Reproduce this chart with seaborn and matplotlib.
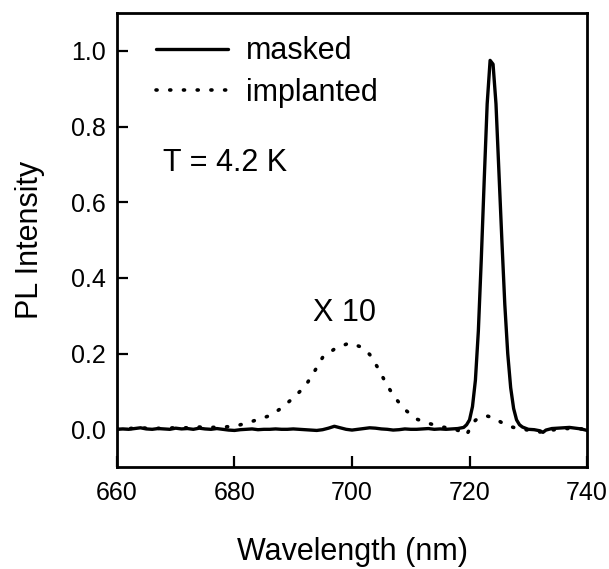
import matplotlib
matplotlib.use("Agg")
import matplotlib.pyplot as plt
import seaborn as sns
import pandas as pd

# ---- data ----
masked_wl = [660, 661, 662, 663, 664, 665, 666, 667, 668, 669, 670, 671, 672, 673, 674, 675,
             676, 677, 678, 679, 680, 681, 682, 683, 684, 685, 686, 687, 688, 689, 690, 691,
             692, 693, 694, 695, 696, 697, 698, 699, 700, 701, 702, 703, 704, 705, 706, 707,
             708, 709, 710, 711, 712, 713, 714, 715, 716, 717, 718, 719, 719.5, 720, 720.5,
             721, 721.5, 722, 722.5, 723, 723.5, 724, 724.5, 725, 725.5, 726, 726.5, 727,
             727.5, 728, 728.5, 729, 729.5, 730, 731, 732, 732.5, 733, 734, 735, 736, 737,
             738, 739, 740]
masked_int = [0.0, 0.001, 0.0, 0.002, 0.004, 0.001, 0.0, 0.002, 0.001, 0.0, 0.003, 0.001,
              0.002, 0.0, 0.003, 0.001, 0.0, 0.002, 0.0, -0.002, -0.003, -0.001, 0.0, 0.001,
              -0.001, 0.0, 0.0, 0.001, 0.0, 0.0, 0.001, 0.0, -0.001, -0.002, -0.003, -0.001,
              0.003, 0.008, 0.004, 0.0, -0.002, 0.0, 0.002, 0.004, 0.003, 0.001, 0.0, -0.002,
              -0.001, 0.001, 0.0, 0.0, 0.001, 0.002, 0.0, 0.001, 0.0, 0.001, 0.002, 0.005,
              0.012, 0.025, 0.06, 0.13, 0.26, 0.45, 0.66, 0.86, 0.975, 0.965, 0.86, 0.68, 0.50,
              0.33, 0.20, 0.11, 0.055, 0.025, 0.012, 0.006, 0.003, 0.0, -0.001, -0.004,
              -0.008, -0.002, 0.002, 0.003, 0.004, 0.005, 0.003, 0.001, -0.003]

implanted_wl = [660, 662, 664, 666, 668, 670, 672, 674, 676, 678, 680, 682, 684, 686, 688,
                690, 692, 693.5, 695, 697, 699.5, 701.5, 703, 704.5, 706, 707.5, 709, 711,
                713, 715, 717, 718.5, 719.5, 720, 721, 722, 723, 724, 725, 726, 727, 728,
                729, 730, 731, 732, 734, 736, 738, 740]
implanted_int = [0.0, 0.002, 0.004, 0.002, 0.003, 0.004, 0.004, 0.006, 0.005, 0.006, 0.008,
                 0.016, 0.026, 0.036, 0.056, 0.083, 0.113, 0.15, 0.19, 0.212, 0.228, 0.218,
                 0.198, 0.16, 0.115, 0.08, 0.052, 0.027, 0.016, 0.007, 0.002, -0.005, -0.015,
                 0.0, 0.024, 0.033, 0.035, 0.031, 0.022, 0.013, 0.007, 0.003, 0.0, -0.002,
                 -0.005, -0.007, -0.002, 0.002, 0.002, 0.0]

series_labels = ["masked", "implanted"]
x_ticks = [660, 680, 700, 720, 740]
y_ticks = [0.0, 0.2, 0.4, 0.6, 0.8, 1.0]

df_m = pd.DataFrame({"wl": masked_wl, "I": masked_int})
df_i = pd.DataFrame({"wl": implanted_wl, "I": implanted_int})

sns.set_theme(style="white")
plt.rcParams["font.family"] = ["Liberation Sans", "DejaVu Sans"]
plt.rcParams["text.color"] = "black"

fig = plt.figure(figsize=(6.09, 5.69), dpi=100)
ax = fig.add_axes([0.192, 0.179, 0.772, 0.798])

sns.lineplot(data=df_m, x="wl", y="I", ax=ax, color="black", lw=2.4,
             estimator=None, sort=False, label=series_labels[0],
             solid_joinstyle="round")
sns.lineplot(data=df_i, x="wl", y="I", ax=ax, color="black", lw=2.6,
             estimator=None, sort=False, label=series_labels[1],
             linestyle=(0, (0.3, 3.5)), dash_capstyle="round")

ax.set_xlim(660, 740)
ax.set_ylim(-0.1, 1.1)
ax.set_xticks(x_ticks)
ax.set_yticks(y_ticks)
ax.set_xticklabels([str(t) for t in x_ticks])
ax.set_yticklabels([f"{t:.1f}" for t in y_ticks])
ax.tick_params(direction="in", length=8, width=1.6, colors="black",
               labelsize=18, pad=10, bottom=True, left=True)
ax.tick_params(axis="y", pad=8)
for s in ax.spines.values():
    s.set_color("black")
    s.set_linewidth(2.0)

ax.set_xlabel("Wavelength (nm)", fontsize=22, color="black", labelpad=23)
ax.set_ylabel("PL Intensity", fontsize=22, color="black", labelpad=19)

ax.text(667.8, 0.704, "T = 4.2 K", fontsize=22, color="black", va="center", ha="left")
ax.text(698.8, 0.307, "X 10", fontsize=22, color="black", va="center", ha="center")

leg = ax.legend(loc="upper left", bbox_to_anchor=(0.07, 0.962), frameon=False,
                fontsize=22, handlelength=2.35, handletextpad=0.6,
                labelspacing=0.38, borderpad=0.2, borderaxespad=0, labelcolor="black")

fig.savefig("out.png", dpi=100)
